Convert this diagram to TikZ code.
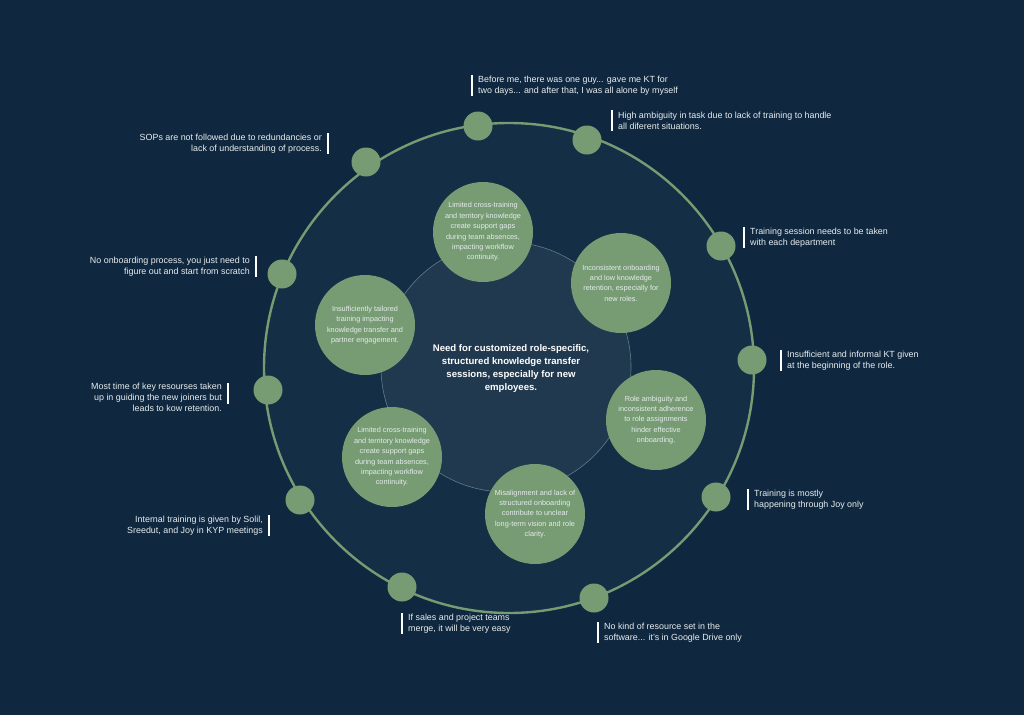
\documentclass[tikz,border=0pt]{standalone}
\usepackage{fontspec}
\setmainfont{Liberation Sans}
\definecolor{bg}{HTML}{10283F}
\definecolor{ringfill}{HTML}{132E45}
\definecolor{innerfill}{HTML}{21394F}
\definecolor{inneredge}{HTML}{5F7D88}
\definecolor{sage}{HTML}{779C74}
\definecolor{txt}{HTML}{E6ECEE}
\tikzset{
  dot/.style={circle,fill=sage,minimum size=29pt,inner sep=0pt},
  bubble/.style={circle,fill=sage,minimum size=100pt,inner sep=0pt,align=center,text=txt,font=\fontsize{7.3}{10.4}\selectfont},
  lbl/.style={text=txt,font=\fontsize{8.9}{11}\selectfont,inner sep=0pt},
  bar/.style={draw=white,line width=2.8pt}
}
\begin{document}
\begin{tikzpicture}[x=1pt,y=-1pt]
\fill[bg] (0,0) rectangle (1024,715);
\useasboundingbox (0,0) rectangle (1024,715);
% outer ring
\node[circle,fill=ringfill,draw=sage,line width=2.4pt,minimum size=490pt,inner sep=0pt] (ring) at (509,368) {};
% inner circle
\node[circle,fill=innerfill,draw=inneredge,line width=0.6pt,minimum size=250pt,inner sep=0pt] (inner) at (506,367) {};
\node[text=white,font=\bfseries\fontsize{9.6}{13}\selectfont,align=center] (core) at (511,369) {Need for customized role-specific,\\structured knowledge transfer\\sessions, especially for new\\employees.};
% bubbles
\node[bubble] (b1) at (483,232) {Limited cross-training\\and territory knowledge\\create support gaps\\during team absences,\\impacting workflow\\continuity.};
\node[bubble] (b2) at (621,283) {Inconsistent onboarding\\and low knowledge\\retention, especially for\\new roles.};
\node[bubble] (b3) at (365,325) {Insufficiently tailored\\training impacting\\knowledge transfer and\\partner engagement.};
\node[bubble] (b4) at (656,420) {Role ambiguity and\\inconsistent adherence\\to role assignments\\hinder effective\\onboarding.};
\node[bubble] (b5) at (392,457) {Limited cross-training\\and territory knowledge\\create support gaps\\during team absences,\\impacting workflow\\continuity.};
\node[bubble] (b6) at (535,514) {Misalignment and lack of\\structured onboarding\\contribute to unclear\\long-term vision and role\\clarity.};
% dots on ring
\node[dot] (d1) at (478,126) {};
\node[dot] (d2) at (587,140) {};
\node[dot] (d3) at (366,162) {};
\node[dot] (d4) at (721,246) {};
\node[dot] (d5) at (282,274) {};
\node[dot] (d6) at (752,360) {};
\node[dot] (d7) at (268,390) {};
\node[dot] (d8) at (716,497) {};
\node[dot] (d9) at (300,500) {};
\node[dot] (d10) at (594,598) {};
\node[dot] (d11) at (402,587) {};
% labels right side (bar left)
\draw[bar] (472,75) -- (472,96);
\node[lbl,anchor=west,align=left] (l1) at (478,85.5) {Before me, there was one guy... gave me KT for\\two days... and after that, I was all alone by myself};
\draw[bar] (612,110) -- (612,131);
\node[lbl,anchor=west,align=left] (l2) at (618,120.5) {High ambiguity in task due to lack of training to handle\\all diferent situations.};
\draw[bar] (744,227) -- (744,248);
\node[lbl,anchor=west,align=left] (l4) at (750,237.5) {Training session needs to be taken\\with each department};
\draw[bar] (781,350) -- (781,371);
\node[lbl,anchor=west,align=left] (l6) at (787,360.5) {Insufficient and informal KT given\\at the beginning of the role.};
\draw[bar] (748,489) -- (748,510);
\node[lbl,anchor=west,align=left] (l8) at (754,499.5) {Training is mostly\\happening through Joy only};
\draw[bar] (402,613) -- (402,634);
\node[lbl,anchor=west,align=left] (l11) at (408,623.5) {If sales and project teams\\merge, it will be very easy};
\draw[bar] (598,622) -- (598,643);
\node[lbl,anchor=west,align=left] (l10) at (604,632.5) {No kind of resource set in the\\software... it's in Google Drive only};
% labels left side (bar right)
\draw[bar] (328,133) -- (328,154);
\node[lbl,anchor=east,align=right] (l3) at (322,143.5) {SOPs are not followed due to redundancies or\\lack of understanding of process.};
\draw[bar] (256,256) -- (256,277);
\node[lbl,anchor=east,align=right] (l5) at (250,266.5) {No onboarding process, you just need to\\figure out and start from scratch};
\draw[bar] (228,383) -- (228,404);
\node[lbl,anchor=east,align=right] (l7) at (222,397) {Most time of key resourses taken\\up in guiding the new joiners but\\leads to kow retention.};
\draw[bar] (269,515) -- (269,536);
\node[lbl,anchor=east,align=right] (l9) at (263,525.5) {Internal training is given by Solil,\\Sreedut, and Joy in KYP meetings};
\end{tikzpicture}
\end{document}
